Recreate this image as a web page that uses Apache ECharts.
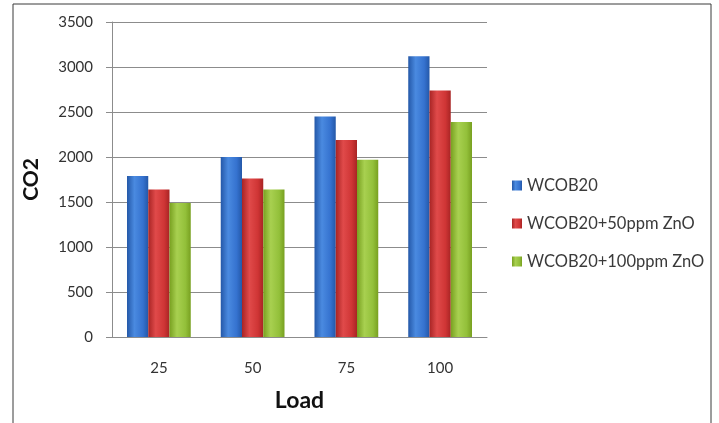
<!DOCTYPE html>
<html>
<head>
<meta charset="utf-8">
<script src="https://cdn.jsdelivr.net/npm/echarts@6/dist/echarts.min.js"></script>
<style>
  html, body { margin: 0; padding: 0; background: #ffffff; }
  #chart { width: 719px; height: 423px; }
</style>
</head>
<body>
<div id="chart"></div>
<script>
// Load levels on the x axis
const loads = ['25', '50', '75', '100'];

// CO2 emission per fuel blend
const wcob20 = [1790, 2000, 2450, 3120];
const wcob20Zno50 = [1640, 1760, 2190, 2740];
const wcob20Zno100 = [1490, 1640, 1970, 2390];

const seriesNames = ['WCOB20', 'WCOB20+50ppm ZnO', 'WCOB20+100ppm ZnO'];

// Horizontal shading gives each bar a rounded, cylinder-like look
function shade(dark, mid, light) {
  return new echarts.graphic.LinearGradient(0, 0, 1, 0, [
    { offset: 0, color: dark },
    { offset: 0.35, color: light },
    { offset: 0.75, color: mid },
    { offset: 1, color: dark }
  ]);
}

const palette = [
  shade('#2458a8', '#3572cf', '#4a8ae0'),
  shade('#a82424', '#cf3535', '#e04a4a'),
  shade('#78a020', '#93c03a', '#a8d050')
];

const chart = echarts.init(document.getElementById('chart'), null, { renderer: 'canvas' });

const font = 'Lato, "Open Sans", sans-serif';

function bar(name, values, idx) {
  return {
    name: name,
    type: 'bar',
    data: values,
    barGap: '0%',
    barCategoryGap: '32%',
    itemStyle: { color: palette[idx] }
  };
}

chart.setOption({
  animation: false,
  backgroundColor: '#ffffff',
  graphic: [{
    type: 'rect',
    shape: { x: 13, y: 4, width: 698, height: 440 },
    style: { fill: 'none', stroke: '#3a3a3a', lineWidth: 1 },
    silent: true
  }],
  grid: { left: 112, top: 22, right: 232, bottom: 86 },
  legend: {
    orient: 'vertical',
    left: 507,
    top: 172,
    itemWidth: 10,
    itemHeight: 10,
    itemGap: 21,
    icon: 'rect',
    textStyle: { fontFamily: font, fontSize: 16.5, color: '#3a3a3a' },
    data: seriesNames
  },
  xAxis: {
    type: 'category',
    data: loads,
    name: 'Load',
    nameLocation: 'middle',
    nameGap: 52,
    nameTextStyle: { fontFamily: font, fontSize: 23, fontWeight: 'bold', color: '#111' },
    axisLine: { lineStyle: { color: '#8c8c8c' } },
    axisTick: { show: false },
    axisLabel: { fontFamily: font, fontSize: 15, color: '#333', margin: 24 }
  },
  yAxis: {
    type: 'value',
    min: 0,
    max: 3500,
    interval: 500,
    name: 'CO2',
    nameLocation: 'middle',
    nameGap: 70,
    nameRotate: 90,
    nameTextStyle: { fontFamily: font, fontSize: 21, fontWeight: 'bold', color: '#111' },
    axisLine: { show: true, lineStyle: { color: '#8c8c8c' } },
    axisTick: { show: true, length: 6, lineStyle: { color: '#8c8c8c' } },
    axisLabel: { fontFamily: font, fontSize: 15, color: '#333', margin: 19, formatter: v => String(v) },
    splitLine: { lineStyle: { color: '#8c8c8c', width: 1 } }
  },
  series: [
    bar(seriesNames[0], wcob20, 0),
    bar(seriesNames[1], wcob20Zno50, 1),
    bar(seriesNames[2], wcob20Zno100, 2)
  ]
});
</script>
</body>
</html>
